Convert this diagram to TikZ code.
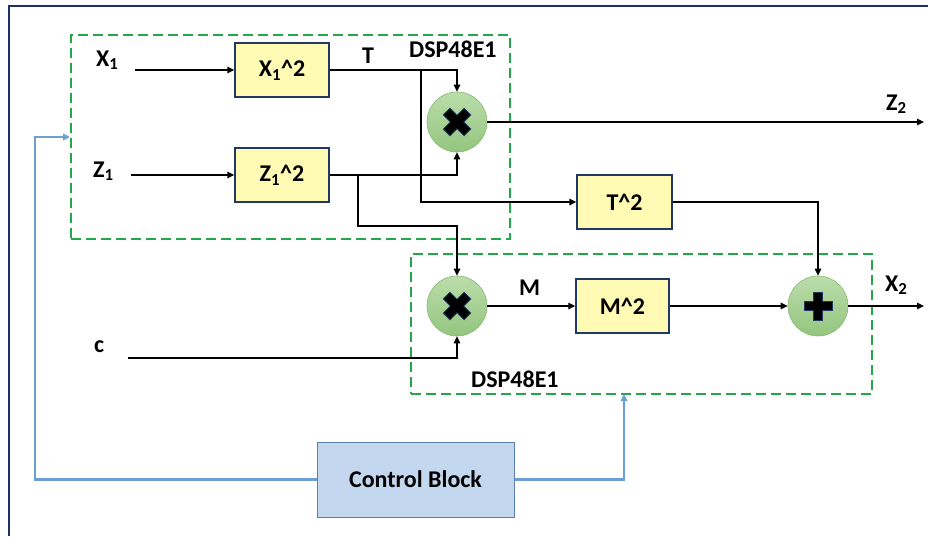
\documentclass[tikz,border=0pt]{standalone}
\usepackage{fontspec}
\setmainfont{Carlito}
\usetikzlibrary{arrows.meta,calc}
\definecolor{framenavy}{HTML}{1F2F6B}
\definecolor{boxnavy}{HTML}{1F3864}
\definecolor{boxfill}{HTML}{FFFBB5}
\definecolor{dspgreen}{HTML}{22A84A}
\definecolor{circtop}{HTML}{BBDDAA}
\definecolor{circbot}{HTML}{94C57F}
\definecolor{circedge}{HTML}{88B872}
\definecolor{ctrlfill}{HTML}{C3D8EE}
\definecolor{ctrledge}{HTML}{5A7FA8}
\definecolor{linkblue}{HTML}{6C9FD3}
\begin{document}
\begin{tikzpicture}[x=1pt,y=-1pt,
  font=\bfseries\fontsize{24}{28}\selectfont,
  sqbox/.style={draw=boxnavy,fill=boxfill,line width=1.4pt,minimum width=94pt,minimum height=54pt,inner sep=0pt},
  opcirc/.style={circle,draw=circedge,line width=0.6pt,top color=circtop,bottom color=circbot,minimum size=60pt,inner sep=0pt},
  dsp/.style={draw=dspgreen,line width=1.8pt,dash pattern=on 10pt off 5pt,inner sep=0pt},
  ctrlbox/.style={draw=ctrledge,fill=ctrlfill,line width=1pt,minimum width=197pt,minimum height=75pt,inner sep=0pt},
  lbl/.style={anchor=base west,inner sep=0pt},
  sig/.style={draw=black,line width=1.5pt,-{Triangle[length=7pt,width=6.5pt]}},
  ctl/.style={draw=linkblue,line width=2.2pt,-{Triangle[length=7pt,width=6.5pt]}},
  plusmark/.pic={\filldraw[fill=black,draw=boxnavy,line width=0.8pt]
    (-4.5,-14) -- (4.5,-14) -- (4.5,-4.5) -- (14,-4.5) -- (14,4.5) -- (4.5,4.5)
    -- (4.5,14) -- (-4.5,14) -- (-4.5,4.5) -- (-14,4.5) -- (-14,-4.5) -- (-4.5,-4.5) -- cycle;}
]
\useasboundingbox (0,0) rectangle (928,536);
\fill[white] (0,0) rectangle (928,536);

% outer frame (top and left edges)
\draw[framenavy,line width=2pt] (9,536) -- (9,6) -- (928,6);

% DSP48E1 regions
\node[dsp,minimum width=439pt,minimum height=204pt] (dspA) at (290.5,137) {};
\node[dsp,minimum width=461pt,minimum height=140pt] (dspB) at (641.5,324) {};
\node[lbl] (dspAlbl) at (409,57) {DSP48E1};
\node[lbl] (dspBlbl) at (471,387) {DSP48E1};

% squaring blocks
\node[sqbox] (x1sq) at (282,70) {X\textsubscript{1}\^{}2};
\node[sqbox] (z1sq) at (282,175) {Z\textsubscript{1}\^{}2};
\node[sqbox,minimum width=95pt] (tsq) at (624.5,202) {T\^{}2};
\node[sqbox,minimum width=93pt] (msq) at (622.5,306) {M\^{}2};

% multiplier and adder
\node[opcirc] (mul1) at (457,122) {};
\node[opcirc] (mul2) at (457,306) {};
\node[opcirc] (add) at (818,306) {};
\pic[rotate=45,scale=1.05] at (mul1.center) {plusmark};
\pic[rotate=45,scale=1.05] at (mul2.center) {plusmark};
\pic at (add.center) {plusmark};

% control block
\node[ctrlbox] (ctrl) at (415.5,479.5) {Control Block};

% input and output labels
\node[lbl] (x1) at (96,66) {X\textsubscript{1}};
\node[lbl] (z1) at (93,177) {Z\textsubscript{1}};
\node[lbl] (cin) at (94,352) {c};
\node[lbl] (tl) at (362,63) {T};
\node[lbl] (ml) at (519,295) {M};
\node[lbl] (z2) at (886,110) {Z\textsubscript{2}};
\node[lbl] (x2) at (885,291) {X\textsubscript{2}};

% wire end points and branch points
\coordinate (x1in) at (135,70);
\coordinate (z1in) at (131,175);
\coordinate (cstart) at (128,358);
\coordinate (tbr) at (421,70);
\coordinate (zbr) at (358,175);
\coordinate (zlow) at (358,226);
\coordinate (z2out) at (924,122);
\coordinate (x2out) at (924,306);
\coordinate (fbL) at (35,137);
\coordinate (fbR) at (624,394);

% data path
\draw[sig] (x1in) -- (x1sq.west);
\draw[sig] (z1in) -- (z1sq.west);
\draw[sig] (x1sq.east) -| (mul1.north);
\draw[sig] (tbr) |- (tsq.west);
\draw[sig] (z1sq.east) -| (mul1.south);
\draw[sig] (zbr) -- (zlow) -| (mul2.north);
\draw[sig] (mul1.east) -- (z2out);
\draw[sig] (tsq.east) -| (add.north);
\draw[sig] (mul2.east) -- (msq.west);
\draw[sig] (msq.east) -- (add.west);
\draw[sig] (add.east) -- (x2out);
\draw[sig] (cstart) -| (mul2.south);

% control links
\draw[ctl] (ctrl.west) -| (fbL) -- (dspA.west);
\draw[ctl] (ctrl.east) -| (fbR);
\end{tikzpicture}
\end{document}
